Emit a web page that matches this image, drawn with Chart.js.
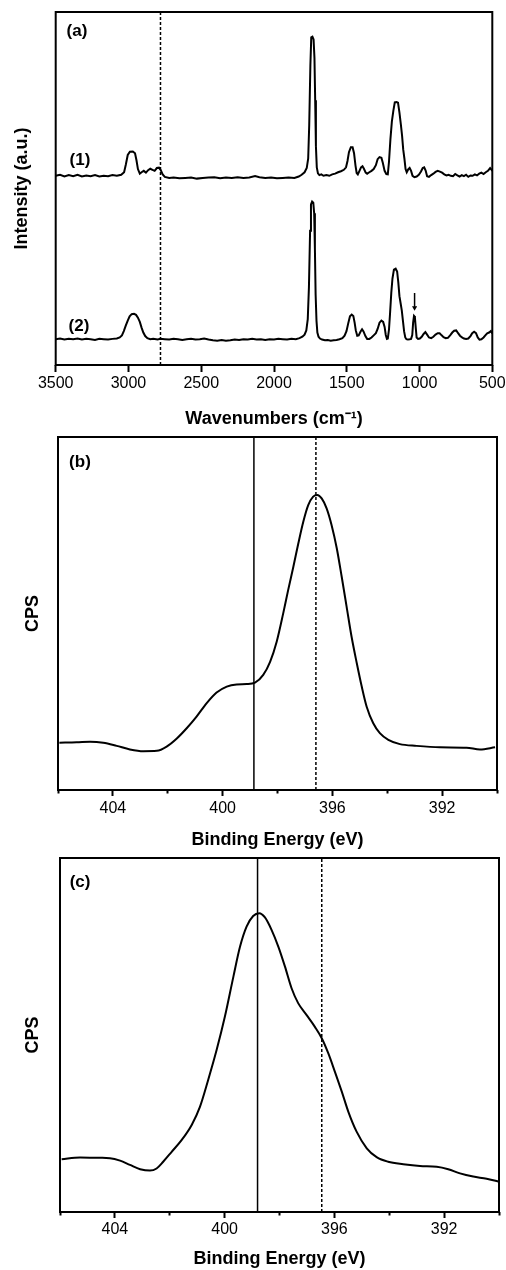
<!DOCTYPE html>
<html>
<head>
<meta charset="utf-8">
<script src="https://cdn.jsdelivr.net/npm/chart.js@4.4.1/dist/chart.umd.min.js"></script>
<style>
  body { margin: 0; background: #fff; width: 506px; height: 1270px; overflow: hidden; }
  canvas { position: absolute; left: 0; }
</style>
</head>
<body>
<canvas id="chartA" width="506" height="430" style="top:0"></canvas>
<canvas id="chartB" width="506" height="422" style="top:430px"></canvas>
<canvas id="chartC" width="506" height="418" style="top:852px"></canvas>
<script>
// ---- panel (a): IR spectra ----
const irTicks = [3500, 3000, 2500, 2000, 1500, 1000, 500];

const ir1Wn = [3500,3470,3440,3410,3380,3350,3320,3290,3260,3230,3200,3170,3140,3110,3080,3050,3030,3018,3005,2990,2970,2955,2945,2935,2922,2910,2895,2880,2865,2850,2835,2820,2805,2790,2778,2765,2750,2720,2690,2650,2610,2570,2530,2490,2450,2410,2370,2330,2290,2250,2210,2170,2130,2100,2060,2020,1980,1940,1900,1860,1830,1810,1790,1775,1765,1758,1750,1744,1736,1728,1722,1717,1712,1706,1698,1688,1675,1660,1640,1620,1600,1580,1560,1540,1520,1505,1495,1485,1472,1460,1450,1440,1432,1424,1415,1402,1392,1382,1370,1360,1345,1330,1315,1300,1288,1275,1262,1252,1240,1228,1218,1210,1200,1190,1180,1170,1158,1148,1138,1128,1120,1112,1104,1096,1088,1078,1068,1058,1048,1035,1020,1005,990,978,968,958,948,935,920,905,890,875,860,845,830,815,800,785,770,755,740,725,710,695,680,665,650,635,620,605,590,575,560,545,530,515,505,500];
const ir1Int = [53.6,53.9,53.4,53.8,53.5,53.9,53.4,53.7,53.5,53.8,53.4,53.6,53.5,53.8,53.6,53.9,54.6,56.8,59.5,60.4,60.5,60.0,58.0,55.5,54.2,54.6,55.0,54.5,55.2,55.6,55.3,55.0,55.8,55.9,55.2,54.0,53.3,53.0,53.1,52.9,53.0,53.1,52.8,53.0,53.1,53.2,52.9,53.1,53.0,53.2,53.0,53.1,53.5,53.2,53.0,53.1,52.9,53.0,53.1,53.0,53.4,53.9,54.6,55.8,58.5,68.0,85.0,92.8,93.0,92.2,87.0,75.0,62.0,56.0,54.3,53.8,54.0,53.6,53.8,53.6,54.0,54.2,54.6,54.9,55.3,56.0,57.8,60.3,61.7,61.7,60.0,56.5,54.4,54.0,54.8,56.0,56.3,55.6,54.5,54.2,54.6,55.0,55.5,56.6,58.3,58.9,58.7,57.2,55.0,54.1,54.0,57.5,64.0,69.0,72.0,74.4,74.5,74.3,71.5,68.0,65.0,61.0,58.5,55.5,54.6,55.4,55.8,55.0,53.6,53.2,53.4,53.9,54.8,55.8,56.0,55.1,53.5,53.3,53.8,54.2,54.7,55.0,54.8,54.5,54.0,53.7,53.9,53.6,53.5,54.1,53.7,53.4,53.8,53.5,53.9,53.3,53.7,53.6,54.0,53.7,54.2,54.5,54.1,54.6,55.0,55.8,55.3,55.0];

const ir2Wn = [3500,3470,3440,3410,3380,3350,3320,3290,3260,3230,3200,3170,3140,3110,3080,3060,3045,3032,3018,3005,2992,2978,2962,2948,2935,2922,2910,2898,2885,2870,2850,2830,2800,2780,2750,2720,2690,2660,2630,2600,2570,2540,2510,2480,2450,2420,2390,2360,2330,2300,2270,2240,2210,2180,2150,2120,2090,2060,2030,2000,1970,1940,1910,1880,1850,1825,1805,1790,1778,1768,1760,1752,1746,1738,1730,1724,1719,1714,1708,1702,1694,1684,1670,1650,1630,1610,1590,1570,1550,1530,1515,1502,1490,1478,1466,1455,1446,1438,1428,1418,1405,1395,1385,1372,1360,1345,1330,1315,1300,1288,1275,1262,1250,1240,1232,1224,1218,1210,1202,1194,1186,1176,1164,1154,1146,1138,1130,1122,1114,1106,1098,1090,1080,1068,1058,1050,1044,1038,1032,1026,1020,1010,998,985,972,960,948,935,920,905,890,875,862,848,835,820,805,790,775,762,748,735,722,708,695,680,665,650,638,625,612,600,588,575,560,548,535,522,510,500];
const ir2Int = [7.3,7.5,7.2,7.4,7.3,7.5,7.2,7.4,7.3,7.1,7.4,7.3,7.2,7.4,7.5,7.8,8.4,9.6,11.2,12.6,13.8,14.4,14.5,14.2,13.4,12.2,10.6,9.2,8.2,7.6,7.3,7.4,7.2,7.4,7.3,7.2,7.4,7.3,7.1,7.3,7.4,7.2,7.3,7.5,7.2,7.0,6.9,7.1,6.9,7.0,7.2,7.1,7.3,7.2,7.4,7.2,7.3,7.1,7.3,7.2,7.4,7.3,7.2,7.4,7.3,7.6,8.0,8.6,9.8,13.0,22.0,38.0,45.5,46.3,46.0,43.0,33.0,20.0,12.5,9.2,8.0,7.5,7.2,7.0,7.1,6.9,7.0,7.1,7.3,7.6,8.3,9.6,11.8,13.8,14.3,13.9,12.0,9.8,8.3,8.4,9.5,10.1,9.5,8.2,7.4,7.4,7.8,8.4,9.0,10.2,12.0,12.6,12.2,10.8,8.5,7.4,7.5,10.0,15.0,20.5,24.5,27.0,27.3,26.5,23.5,19.5,17.5,15.5,12.5,9.5,7.8,7.3,7.2,7.3,7.4,8.5,12.0,13.9,13.6,10.5,7.8,7.4,7.5,8.0,8.8,9.3,8.6,7.8,7.6,8.0,8.6,9.0,9.0,8.4,7.9,7.6,7.7,8.4,9.2,9.7,9.8,9.0,8.3,7.8,7.5,7.4,7.5,8.2,9.0,9.4,9.0,7.8,7.2,7.3,7.8,8.4,9.0,9.2,9.6,8.9];

const irRefLine = 2780;
const irArrowWn = 1034;
const irArrowInt = [20.4, 16.2];

// ---- panels (b) and (c): XPS N 1s ----
const xpsTicks = [404, 400, 396, 392];
const xpsMinorTicks = [406, 402, 398, 394, 390];

const xpsBeV = [405.95,405.32,404.83,404.35,403.86,403.38,402.89,402.40,402.04,401.67,401.31,400.95,400.58,400.22,399.85,399.49,399.12,398.82,398.52,398.27,398.03,397.79,397.61,397.42,397.24,397.06,396.88,396.70,396.55,396.39,396.21,396.03,395.84,395.66,395.48,395.30,395.11,394.93,394.75,394.51,394.27,393.96,393.54,392.93,392.08,391.11,390.62,390.07];
const xpsBCps = [13.4,13.5,13.7,13.4,12.5,11.5,11.0,11.1,12.3,14.6,17.5,20.8,24.6,27.6,29.3,29.9,30.0,30.4,32.6,36.3,42.0,50.1,56.7,63.3,69.9,76.0,80.7,83.1,83.6,82.6,79.8,75.1,68.5,60.4,51.9,43.4,35.9,29.3,23.6,18.9,16.1,14.2,13.0,12.5,12.1,12.0,11.5,12.1];
const xpsBLines = [398.86, 396.6];

const xpsCeV = [405.94,405.27,404.54,404.18,403.81,403.45,403.08,402.72,402.48,402.24,401.93,401.57,401.20,400.90,400.60,400.29,399.99,399.68,399.44,399.20,398.96,398.74,398.53,398.29,398.04,397.80,397.56,397.32,397.01,396.71,396.46,396.22,395.98,395.73,395.49,395.19,394.82,394.46,394.04,393.49,392.88,392.27,391.85,391.42,390.94,390.45,390.03];
const xpsCCps = [14.9,15.4,15.3,15.2,14.5,13.3,12.1,11.7,12.3,14.2,17.0,20.3,24.6,29.7,37.3,45.8,55.2,66.5,74.9,80.6,83.6,84.4,83.2,79.7,74.9,69.3,63.2,59.0,55.6,52.3,49.1,44.8,39.6,34.0,28.3,22.7,18.0,15.5,14.2,13.5,13.0,12.8,12.1,10.9,10.0,9.4,8.6];
const xpsCLines = [398.8, 396.46];

Chart.defaults.font.family = "'Liberation Sans', Arial, sans-serif";
Chart.defaults.color = '#000';
Chart.defaults.animation = false;

const pts = (xs, ys) => xs.map((x, i) => ({x: x, y: ys[i]}));
const vline = x => [{x: x, y: 0}, {x: x, y: 100}];

const framePlugin = {
  id: 'frame',
  afterDatasetsDraw(chart) {
    const {ctx, chartArea: a} = chart;
    ctx.save();
    ctx.lineWidth = 2;
    ctx.strokeStyle = '#000';
    ctx.strokeRect(a.left, a.top, a.right - a.left, a.bottom - a.top);
    ctx.restore();
  }
};

const notesPlugin = {
  id: 'notes',
  afterDatasetsDraw(chart, args, opts) {
    const {ctx, scales} = chart;
    ctx.save();
    ctx.font = "bold 17px 'Liberation Sans', Arial, sans-serif";
    ctx.fillStyle = '#000';
    ctx.textAlign = 'center';
    ctx.textBaseline = 'middle';
    (opts.items || []).forEach(n => {
      ctx.fillText(n.text, scales.x.getPixelForValue(n.x), scales.y.getPixelForValue(n.y));
    });
    ctx.restore();
  }
};

function yAxis(title, width, titlePad) {
  return {
    min: 0, max: 100,
    ticks: {display: false},
    grid: {display: false},
    border: {display: false},
    title: {display: true, text: title, font: {size: 18, weight: 'bold'}, padding: {top: titlePad, bottom: 0}},
    afterFit: s => { s.width = width; s.paddingTop = 0; s.paddingBottom = 0; }
  };
}

function xAxis(min, max, tickList, opt) {
  return {
    type: 'linear', position: 'bottom', reverse: true, min: min, max: max, weight: 0,
    afterBuildTicks: s => { s.ticks = tickList.map(v => ({value: v})); },
    ticks: {autoSkip: false, maxRotation: 0, padding: opt.labelPad, font: {size: 16}, callback: v => String(v)},
    grid: {drawOnChartArea: false, tickLength: opt.tickLen, tickWidth: 2, tickColor: '#000'},
    border: {display: false},
    title: {display: true, text: opt.title, font: {size: 18, weight: 'bold'}, padding: {top: 0, bottom: opt.titlePad}},
    afterFit: s => { s.height = opt.height; s.paddingLeft = 0; s.paddingRight = 0; }
  };
}

function minorAxis(min, max, tickList) {
  return {
    type: 'linear', position: 'bottom', reverse: true, min: min, max: max, weight: -1,
    afterBuildTicks: s => { s.ticks = tickList.map(v => ({value: v})); },
    ticks: {display: false},
    grid: {drawOnChartArea: false, tickLength: 3.5, tickWidth: 2, tickColor: '#000'},
    border: {display: false},
    afterFit: s => { s.height = 0; s.paddingLeft = 0; s.paddingRight = 0; }
  };
}

const curve = (data, smooth) => ({
  data: data, xAxisID: 'x', showLine: true, borderColor: '#000', borderWidth: 2,
  pointRadius: 0, tension: smooth ? 0.4 : 0, cubicInterpolationMode: smooth ? 'monotone' : 'default'
});
const refLine = (x, dashed) => ({
  data: vline(x), xAxisID: 'x', showLine: true, borderColor: '#000', borderWidth: 1.5,
  borderDash: dashed ? [3, 2] : [], pointRadius: 0
});

// panel (a)
new Chart(document.getElementById('chartA'), {
  type: 'scatter',
  data: {
    datasets: [
      curve(pts(ir1Wn, ir1Int), false),
      curve(pts(ir2Wn, ir2Int), false),
      refLine(irRefLine, true),
      {
        data: irArrowInt.map(v => ({x: irArrowWn, y: v})), xAxisID: 'x', showLine: true,
        borderColor: '#000', borderWidth: 1.5,
        pointRadius: [0, 3], pointStyle: 'triangle', pointRotation: [0, 180],
        pointBackgroundColor: '#000', pointBorderWidth: 0
      }
    ]
  },
  options: {
    responsive: false,
    layout: {padding: {left: 0, top: 12, right: 13.7, bottom: 0}},
    scales: {
      x: xAxis(500, 3500, irTicks, {labelPad: 2, tickLen: 7, title: 'Wavenumbers (cm\u207B\u00B9)', titlePad: 0, height: 65}),
      y: yAxis('Intensity (a.u.)', 55.7, 11)
    },
    plugins: {
      legend: {display: false}, tooltip: {enabled: false},
      notes: {items: [{text: '(a)', x: 3354, y: 94.6}, {text: '(1)', x: 3333, y: 58.1}, {text: '(2)', x: 3340, y: 11.0}]}
    }
  },
  plugins: [framePlugin, notesPlugin]
});

// panel (b)
new Chart(document.getElementById('chartB'), {
  type: 'scatter',
  data: {
    datasets: [
      curve(pts(xpsBeV, xpsBCps), true),
      refLine(xpsBLines[0], false),
      refLine(xpsBLines[1], true)
    ]
  },
  options: {
    responsive: false,
    layout: {padding: {left: 0, top: 7, right: 9, bottom: 0}},
    scales: {
      x: xAxis(390, 406, xpsTicks, {labelPad: 3, tickLen: 6, title: 'Binding Energy (eV)', titlePad: 1, height: 62}),
      xMinor: minorAxis(390, 406, xpsMinorTicks),
      y: yAxis('CPS', 58, 22)
    },
    plugins: {
      legend: {display: false}, tooltip: {enabled: false},
      notes: {items: [{text: '(b)', x: 405.2, y: 92.9}]}
    }
  },
  plugins: [framePlugin, notesPlugin]
});

// panel (c)
new Chart(document.getElementById('chartC'), {
  type: 'scatter',
  data: {
    datasets: [
      curve(pts(xpsCeV, xpsCCps), true),
      refLine(xpsCLines[0], false),
      refLine(xpsCLines[1], true)
    ]
  },
  options: {
    responsive: false,
    layout: {padding: {left: 0, top: 6, right: 7, bottom: 0}},
    scales: {
      x: xAxis(390, 406, xpsTicks, {labelPad: 1.5, tickLen: 6, title: 'Binding Energy (eV)', titlePad: 0, height: 58}),
      xMinor: minorAxis(390, 406, xpsMinorTicks),
      y: yAxis('CPS', 60, 22)
    },
    plugins: {
      legend: {display: false}, tooltip: {enabled: false},
      notes: {items: [{text: '(c)', x: 405.27, y: 93.2}]}
    }
  },
  plugins: [framePlugin, notesPlugin]
});
</script>
</body>
</html>
